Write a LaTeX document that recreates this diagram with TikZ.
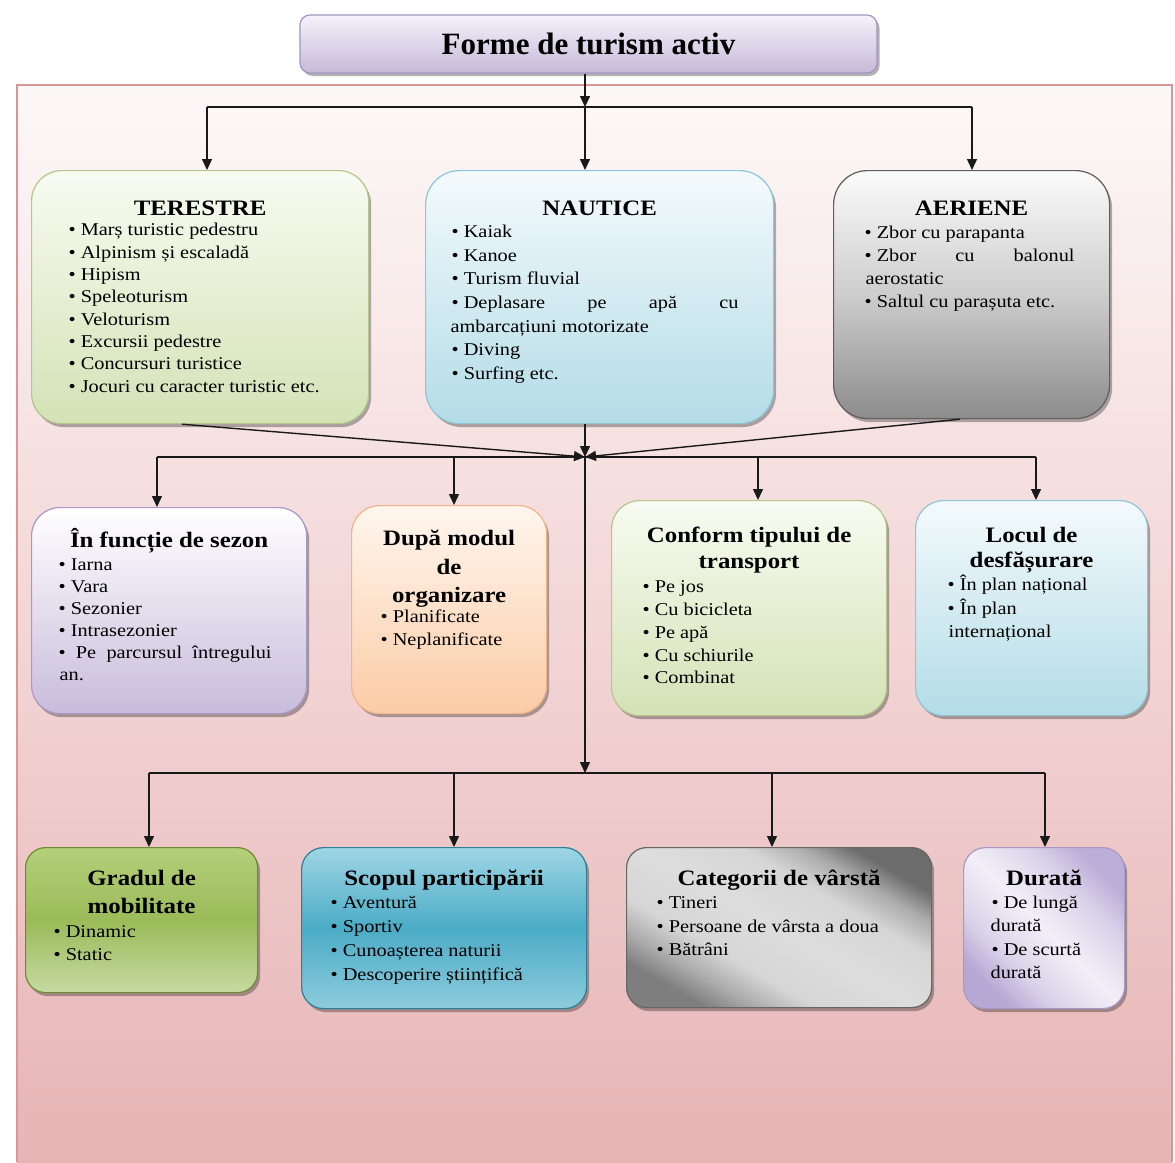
\documentclass[tikz,border=0pt]{standalone}
\usepackage{fontspec}
\setmainfont[FakeStretch=1.13]{Liberation Serif}
\newfontfamily\titlefont{Liberation Serif}
\usetikzlibrary{arrows.meta,shadows,shadings,calc}

\definecolor{bgT}{HTML}{FDF8F8}
\definecolor{bgM}{HTML}{F3D6D6}
\definecolor{bgB}{HTML}{E6B4B5}
\definecolor{bgD}{HTML}{D99694}
\definecolor{tiT}{HTML}{F6F2FA}
\definecolor{tiB}{HTML}{C5B9D8}
\definecolor{tiD}{HTML}{A494C0}
\definecolor{terT}{HTML}{F8FBF1}
\definecolor{terB}{HTML}{D4E2B6}
\definecolor{terD}{HTML}{B3C78C}
\definecolor{nauT}{HTML}{F4FAFC}
\definecolor{nauB}{HTML}{B3DCE7}
\definecolor{nauD}{HTML}{8FC6D6}
\definecolor{aerT}{HTML}{FBFBFB}
\definecolor{aerM}{HTML}{CDCDCD}
\definecolor{aerB}{HTML}{8C8C8C}
\definecolor{aerD}{HTML}{5E5E5E}
\definecolor{sezT}{HTML}{FFFFFF}
\definecolor{sezB}{HTML}{C8BCDC}
\definecolor{sezD}{HTML}{A898C4}
\definecolor{dupT}{HTML}{FFF6EE}
\definecolor{dupB}{HTML}{FBCCA6}
\definecolor{dupD}{HTML}{F2B387}
\definecolor{grT}{HTML}{B4CF79}
\definecolor{grM}{HTML}{9BBB59}
\definecolor{grB}{HTML}{C6DAA2}
\definecolor{grD}{HTML}{6F8A35}
\definecolor{scT}{HTML}{9FD6E5}
\definecolor{scM}{HTML}{4BACC6}
\definecolor{scB}{HTML}{8DCBDC}
\definecolor{scD}{HTML}{2F7F95}
\definecolor{mA}{HTML}{7E7E7E}
\definecolor{mB}{HTML}{ABABAB}
\definecolor{mC}{HTML}{D6D6D6}
\definecolor{mE}{HTML}{DDDDDD}
\definecolor{mF}{HTML}{6C6C6C}
\definecolor{catD}{HTML}{666666}
\definecolor{lA}{HTML}{B6A8D4}
\definecolor{lB}{HTML}{DCD4EA}
\definecolor{lC}{HTML}{F2EFF7}
\definecolor{lE}{HTML}{BBAED8}

\pgfdeclarehorizontalshading{metal}{100bp}{color(0bp)=(mA); color(25bp)=(mA); color(31bp)=(mB); color(38bp)=(mC); color(50bp)=(mE); color(62bp)=(mC); color(69bp)=(mB); color(75bp)=(mF); color(100bp)=(mF)}
\pgfdeclarehorizontalshading{lavsh}{100bp}{color(0bp)=(lA); color(25bp)=(lA); color(36bp)=(lB); color(50bp)=(lC); color(64bp)=(lB); color(75bp)=(lE); color(100bp)=(lE)}

\newcommand\bxt[4]{\parbox[c][#2][t]{#1}{\vspace*{#3}#4}}
\newcommand\hd[2][27pt]{{\centering\fontsize{22}{#1}\selectfont\bfseries\rule{0pt}{20pt}#2\par}}
\newcommand\itf[1]{\fontsize{18}{#1}\selectfont\raggedright}
\newcommand\li[2]{\par\hspace*{#1}•\ #2}
\newcommand\lc[2]{\par\hspace*{#1}#2}

\tikzset{
  box/.style={draw, line width=1.2pt, inner sep=0pt, anchor=north west,
    drop shadow={shadow xshift=2.5pt, shadow yshift=-3.5pt, opacity=0.3, fill=black}},
  arr/.style={line width=1.4pt, draw=black!90, -{Triangle[length=11pt,width=10pt]}},
  ln/.style={line width=1.4pt, draw=black!90},
}

\begin{document}
\begin{tikzpicture}[x=1pt,y=-1pt]
\useasboundingbox (0,0) rectangle (1175,1162);
\fill[white] (0,0) rectangle (1175,1162);
% background frame
\fill[top color=bgT, bottom color=bgB, middle color=bgM] (17,85) rectangle (1172,1162);
\draw[bgD, line width=1.2pt] (17,1162) -- (17,85) -- (1172,85) -- (1172,1162);

% title
\node[draw=tiD, line width=1.2pt, rounded corners=10pt, top color=tiT, bottom color=tiB,
      minimum width=577pt, minimum height=58pt, inner sep=0pt,
      drop shadow={shadow xshift=2.5pt, shadow yshift=-3pt, opacity=0.3, fill=black}]
  (title) at (588.5,44) {\titlefont\fontsize{31}{36}\selectfont\bfseries Forme de turism activ};

% row 1
\node[box, rounded corners=30pt, draw=terD, top color=terT, bottom color=terB] (ter) at (31,170)
 {\bxt{337pt}{253pt}{25pt}{\hd{TERESTRE}\itf{22.3pt}\vspace{-2pt}%
  \li{37pt}{Marș turistic pedestru}\li{37pt}{Alpinism și escaladă}\li{37pt}{Hipism}%
  \li{37pt}{Speleoturism}\li{37pt}{Veloturism}\li{37pt}{Excursii pedestre}%
  \li{37pt}{Concursuri turistice}\li{37pt}{Jocuri cu caracter turistic etc.}\par}};

\node[box, rounded corners=34pt, draw=nauD, top color=nauT, bottom color=nauB] (nau) at (425,170)
 {\bxt{348pt}{253pt}{25pt}{\hd{NAUTICE}\itf{23.6pt}\vspace{-1.6pt}%
  \li{26pt}{Kaiak}\li{26pt}{Kanoe}\li{26pt}{Turism fluvial}%
  \par\hspace*{26pt}\hbox to 287pt{•\ Deplasare\hfill pe\hfill apă\hfill cu}%
  \lc{25pt}{ambarcațiuni motorizate}\li{26pt}{Diving}\li{26pt}{Surfing etc.}\par}};

\node[box, rounded corners=34pt, draw=aerD, top color=aerT, bottom color=aerB, middle color=aerM] (aer) at (833,170)
 {\bxt{276pt}{248pt}{25pt}{\hd{AERIENE}\itf{23pt}%
  \li{31pt}{Zbor cu parapanta}%
  \par\hspace*{31pt}\hbox to 210pt{•\ Zbor\hfill cu\hfill balonul}%
  \lc{32pt}{aerostatic}\li{31pt}{Saltul cu parașuta etc.}\par}};

% row 2
\node[box, rounded corners=28pt, draw=sezD, top color=sezT, bottom color=sezB] (sez) at (31,507)
 {\bxt{275pt}{206pt}{20pt}{\hd{În funcție de sezon}\itf{22pt}\vspace{1pt}%
  \li{27pt}{Iarna}\li{27pt}{Vara}\li{27pt}{Sezonier}\li{27pt}{Intrasezonier}%
  \par\hspace*{27pt}\hbox to 213pt{•\ \ Pe\hfill parcursul\hfill întregului}%
  \lc{28pt}{an.}\par}};

\node[box, rounded corners=28pt, draw=dupD, top color=dupT, bottom color=dupB] (dup) at (351,505)
 {\bxt{195pt}{208pt}{20pt}{\hd[28.5pt]{După modul\\de\\organizare}\itf{23pt}\vspace{-3.5pt}%
  \li{29pt}{Planificate}\li{29pt}{Neplanificate}\par}};

\node[box, rounded corners=28pt, draw=terD, top color=terT, bottom color=terB] (con) at (611,500)
 {\bxt{275pt}{215pt}{22pt}{\hd[26pt]{Conform tipului de\\transport}\itf{22.8pt}\vspace{1.2pt}%
  \li{31pt}{Pe jos}\li{31pt}{Cu bicicleta}\li{31pt}{Pe apă}\li{31pt}{Cu schiurile}\li{31pt}{Combinat}\par}};

\node[box, rounded corners=28pt, draw=nauD, top color=nauT, bottom color=nauB] (loc) at (915,500)
 {\bxt{232pt}{215pt}{22pt}{\hd[25pt]{Locul de\\desfășurare}\itf{23.5pt}\vspace{-0.5pt}%
  \li{32pt}{În plan național}\li{32pt}{În plan}\lc{33pt}{internațional}\par}};

% row 3
\node[box, rounded corners=20pt, draw=grD, top color=grT, bottom color=grB, middle color=grM] (gra) at (25,847)
 {\bxt{232pt}{145pt}{18pt}{\hd[28pt]{Gradul de\\mobilitate}\itf{23pt}\vspace{1pt}%
  \li{28pt}{Dinamic}\li{28pt}{Static}\par}};

\node[box, rounded corners=22pt, draw=scD, top color=scT, bottom color=scB, middle color=scM] (sco) at (301,847)
 {\bxt{285pt}{161pt}{18pt}{\hd{Scopul participării}\itf{24pt}\vspace{-1pt}%
  \li{29pt}{Aventură}\li{29pt}{Sportiv}\li{29pt}{Cunoașterea naturii}\li{29pt}{Descoperire științifică}\par}};

\node[box, rounded corners=20pt, draw=catD, shading=metal, shading angle=60] (cat) at (626,847)
 {\bxt{305pt}{160pt}{18pt}{\hd{Categorii de vârstă}\itf{23.5pt}\vspace{-0.5pt}%
  \li{30pt}{Tineri}\li{30pt}{Persoane de vârsta a doua}\li{30pt}{Bătrâni}\par}};

\node[box, rounded corners=22pt, draw=sezD, shading=lavsh, shading angle=45] (dur) at (963,847)
 {\bxt{161pt}{161pt}{18pt}{\hd{Durată}\itf{23.3pt}\vspace{-0.3pt}%
  \li{28pt}{De lungă}\lc{27pt}{durată}\li{28pt}{De scurtă}\lc{27pt}{durată}\par}};

% connectors: level 1
\coordinate (b1) at (585,107);
\coordinate (b1L) at (207,107);
\coordinate (b1R) at (972,107);
\draw[arr] (b1 |- title.south) -- (b1);
\draw[ln] (b1L) -- (b1R);
\draw[arr] (b1L) -- (b1L |- ter.north);
\draw[arr] (b1) -- (b1 |- nau.north);
\draw[arr] (b1R) -- (b1R |- aer.north);

% junction
\coordinate (J) at (585,457);
\draw[arr] (J |- nau.south) -- (J);
\draw[arr] ([xshift=151pt]ter.south west) -- (J);
\draw[arr] ([xshift=127pt]aer.south west) -- (J);

% level 2
\coordinate (b2L) at (157,457);
\coordinate (b2a) at (454,457);
\coordinate (b2b) at (758,457);
\coordinate (b2R) at (1036,457);
\draw[ln] (b2L) -- (b2R);
\draw[arr] (b2L) -- (b2L |- sez.north);
\draw[arr] (b2a) -- (b2a |- dup.north);
\draw[arr] (b2b) -- (b2b |- con.north);
\draw[arr] (b2R) -- (b2R |- loc.north);

% level 3
\coordinate (b3) at (585,773);
\coordinate (b3L) at (149,773);
\coordinate (b3a) at (454,773);
\coordinate (b3b) at (772,773);
\coordinate (b3R) at (1045,773);
\draw[arr] (J) -- (b3);
\draw[ln] (b3L) -- (b3R);
\draw[arr] (b3L) -- (b3L |- gra.north);
\draw[arr] (b3a) -- (b3a |- sco.north);
\draw[arr] (b3b) -- (b3b |- cat.north);
\draw[arr] (b3R) -- (b3R |- dur.north);
\end{tikzpicture}
\end{document}
